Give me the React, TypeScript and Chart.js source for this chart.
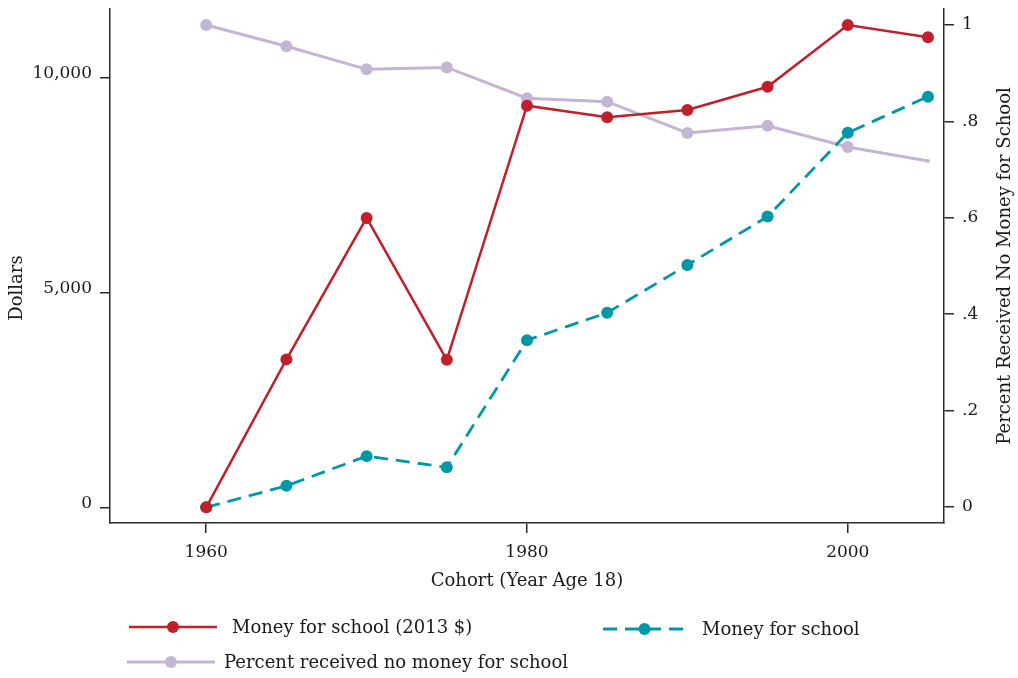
import React, { useEffect, useRef } from "react";
import { Chart, registerables } from "chart.js";

Chart.register(...registerables);

const cohorts = [1960, 1965, 1970, 1975, 1980, 1985, 1990, 1995, 2000, 2005];
const moneyReal = [0, 3440, 6730, 3430, 9340, 9070, 9240, 9780, 11215, 10930];
const moneyNominal = [0, 500, 1190, 930, 3885, 4525, 5635, 6760, 8710, 9550];
const pctNoMoney = [1.0, 0.956, 0.908, 0.912, 0.848, 0.841, 0.776, 0.791, 0.747, 0.718];
const lavenderRadius = [6, 6, 6, 6, 6, 6, 6, 6, 6, 2];

const xTicks = [1960, 1980, 2000];
const leftTicks = [0, 5000, 10000];
const rightTicks = [0, 0.2, 0.4, 0.6, 0.8, 1];

const seriesLabels = [
  "Money for school (2013 $)",
  "Money for school",
  "Percent received no money for school",
];
const xTitle = "Cohort (Year Age 18)";
const leftTitle = "Dollars";
const rightTitle = "Percent Received No Money for School";

const RED = "#C1202B";
const TEAL = "#0097A7";
const LAV = "#C5B5D5";
const INK = "#1a1a1a";
const AXIS = "#2a2a2a";
const FONT = "DejaVu Serif";
const FS = 17;
const TFS = 18;
const DASH = [14, 8];

const annotPlugin = {
  id: "annot",
  afterDraw(chart: any) {
    const ctx = chart.ctx;
    const area = chart.chartArea;
    ctx.save();
    ctx.fillStyle = INK;
    ctx.font = `${TFS}px "${FONT}"`;
    ctx.textAlign = "center";
    ctx.textBaseline = "middle";
    // x title
    ctx.fillText(xTitle, (area.left + area.right) / 2, 581);
    // left title
    ctx.save();
    ctx.translate(17, 288);
    ctx.rotate(-Math.PI / 2);
    ctx.fillText(leftTitle, 0, 0);
    ctx.restore();
    // right title
    ctx.save();
    ctx.translate(1005, (area.top + area.bottom) / 2);
    ctx.rotate(-Math.PI / 2);
    ctx.fillText(rightTitle, 0, 0);
    ctx.restore();

    // legend
    const items = [
      { x0: 129, x1: 217, y: 627, tx: 232, color: RED, dash: [] as number[], w: 2.5, label: seriesLabels[0] },
      { x0: 603, x1: 686, y: 629, tx: 702, color: TEAL, dash: DASH, w: 2.8, label: seriesLabels[1] },
      { x0: 127, x1: 215, y: 662, tx: 224, color: LAV, dash: [] as number[], w: 3, label: seriesLabels[2] },
    ];
    ctx.textAlign = "left";
    for (const it of items) {
      ctx.beginPath();
      ctx.setLineDash(it.dash);
      ctx.strokeStyle = it.color;
      ctx.lineWidth = it.w;
      ctx.moveTo(it.x0, it.y);
      ctx.lineTo(it.x1, it.y);
      ctx.stroke();
      ctx.setLineDash([]);
      ctx.beginPath();
      ctx.fillStyle = it.color;
      ctx.arc((it.x0 + it.x1) / 2, it.y, 6, 0, Math.PI * 2);
      ctx.fill();
      ctx.fillStyle = INK;
      ctx.fillText(it.label, it.tx, it.y + 1);
    }
    ctx.restore();
  },
};

const zeroPad = (s: any) => {
  s.paddingTop = 0;
  s.paddingBottom = 0;
  s.paddingLeft = 0;
  s.paddingRight = 0;
};

export default function App() {
  const ref = useRef<HTMLCanvasElement | null>(null);

  useEffect(() => {
    if (!ref.current) return;
    const tickFont = { family: FONT, size: FS };
    const gridOpts = {
      drawOnChartArea: false,
      drawTicks: true,
      tickLength: 10,
      color: AXIS,
      lineWidth: 1.5,
    };
    const borderOpts = { display: true, color: AXIS, width: 1.5 };
    const chart = new Chart(ref.current, {
      type: "line",
      data: {
        datasets: [
          {
            label: seriesLabels[0],
            data: cohorts.map((c, i) => ({ x: c, y: moneyReal[i] })),
            yAxisID: "y",
            borderColor: RED,
            backgroundColor: RED,
            borderWidth: 2.5,
            pointRadius: 6,
            pointBorderWidth: 0,
            tension: 0,
          },
          {
            label: seriesLabels[1],
            data: cohorts.map((c, i) => ({ x: c, y: moneyNominal[i] })),
            yAxisID: "y",
            borderColor: TEAL,
            backgroundColor: TEAL,
            borderWidth: 2.8,
            borderDash: DASH,
            pointRadius: 6,
            pointBorderWidth: 0,
            tension: 0,
          },
          {
            label: seriesLabels[2],
            data: cohorts.map((c, i) => ({ x: c, y: pctNoMoney[i] })),
            yAxisID: "y1",
            borderColor: LAV,
            backgroundColor: LAV,
            borderWidth: 3,
            pointRadius: lavenderRadius,
            pointBorderWidth: 0,
            tension: 0,
          },
        ],
      },
      options: {
        animation: false,
        responsive: true,
        maintainAspectRatio: false,
        layout: { padding: { top: 9, left: 0, right: 0, bottom: 0 } },
        plugins: {
          legend: { display: false },
          tooltip: { enabled: false },
          title: { display: false },
        },
        scales: {
          x: {
            type: "linear",
            position: "bottom",
            min: 1954,
            max: 2006,
            afterBuildTicks: (s: any) => {
              s.ticks = xTicks.map((v) => ({ value: v }));
            },
            afterFit: (s: any) => {
              s.height = 155;
              zeroPad(s);
            },
            ticks: {
              font: tickFont,
              color: INK,
              padding: 9,
              callback: (v: any) => String(v),
            },
            grid: gridOpts,
            border: borderOpts,
          },
          y: {
            type: "linear",
            position: "left",
            min: -365,
            max: 11588,
            afterBuildTicks: (s: any) => {
              s.ticks = leftTicks.map((v) => ({ value: v }));
            },
            afterFit: (s: any) => {
              s.width = 110;
              zeroPad(s);
            },
            ticks: {
              font: tickFont,
              color: INK,
              padding: 8,
              labelOffset: -4,
              callback: (v: any) => Number(v).toLocaleString("en-US"),
            },
            grid: gridOpts,
            border: borderOpts,
          },
          y1: {
            type: "linear",
            position: "right",
            min: -0.0332,
            max: 1.0332,
            afterBuildTicks: (s: any) => {
              s.ticks = rightTicks.map((v) => ({ value: v }));
            },
            afterFit: (s: any) => {
              s.width = 74;
              zeroPad(s);
            },
            ticks: {
              font: tickFont,
              color: INK,
              padding: 8,
              callback: (v: any) => {
                const n = Number(v);
                if (n === 0) return "0";
                if (n === 1) return "1";
                return "." + Math.round(n * 10);
              },
            },
            grid: gridOpts,
            border: borderOpts,
          },
        },
      },
      plugins: [annotPlugin],
    } as any);
    return () => chart.destroy();
  }, []);

  return (
    <div style={{ position: "absolute", left: 0, top: 0, width: 1018, height: 678, background: "#fff" }}>
      <canvas ref={ref} />
    </div>
  );
}
